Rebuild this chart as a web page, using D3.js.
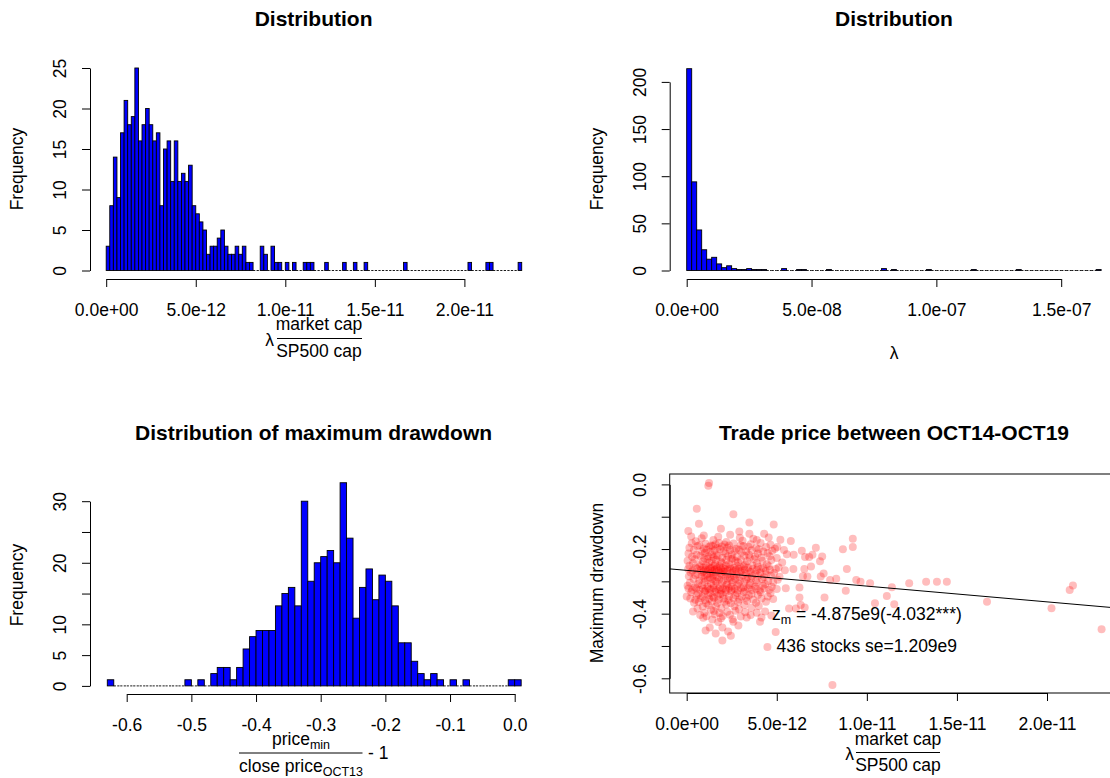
<!DOCTYPE html>
<html>
<head>
<meta charset="utf-8">
<script src="https://cdn.jsdelivr.net/npm/d3@7"></script>
<style>
  body { margin: 0; background: #fff; }
  svg { display: block; font-family: "Liberation Sans", Arial, Helvetica, sans-serif; }
</style>
</head>
<body>
<svg id="chart" width="1110" height="778"></svg>
<script>
// ---------- data ----------
// λ·(market cap / SP500 cap): histogram bins of width 2e-13 starting at 0
const capBinWidth = 2e-13;
const capCounts = [
  3, 8, 14, 9, 17, 21, 18, 19, 25, 16, 18, 20, 18, 16, 17, 8, 15, 16, 11, 16,
  11, 12, 11, 13, 8, 7, 6, 5, 2, 3, 3, 4, 5, 3, 2, 2, 3, 2, 3, 1,
  1, 0, 0, 3, 2, 0, 3, 1, 1, 0, 1, 0, 1, 0, 0, 1, 1, 1, 0, 0,
  0, 1, 0, 0, 0, 0, 1, 0, 0, 1, 0, 0, 1, 0, 0, 0, 0, 0, 0, 0,
  0, 0, 0, 1, 0, 0, 0, 0, 0, 0, 0, 0, 0, 0, 0, 0, 0, 0, 0, 0,
  0, 1, 0, 0, 0, 0, 1, 1, 0, 0, 0, 0, 0, 0, 0, 1
];
// λ: histogram bins of width 2e-9 starting at 0
const lambdaBinWidth = 2e-9;
const lambdaCounts = [
  214, 94, 43, 22, 12, 14, 7, 3, 5, 2, 1, 1, 2, 1, 1, 1, 0, 0, 0, 2,
  0, 0, 1, 1, 0, 0, 0, 0, 1, 0, 0, 0, 0, 0, 0, 0, 0, 0, 0, 2,
  0, 1, 0, 0, 0, 0, 0, 0, 1, 0, 0, 0, 0, 0, 0, 0, 0, 1, 0, 0,
  0, 0, 0, 0, 0, 0, 1, 0, 0, 0, 0, 0, 0, 0, 0, 0, 0, 0, 0, 0,
  0, 0, 1
];
// maximum drawdown (price_min / close price_OCT13 - 1): bins of width 0.01 from -0.63
const ddStart = -0.63;
const ddBinWidth = 0.01;
const ddCounts = [
  1, 0, 0, 0, 0, 0, 0, 0, 0, 0, 0, 0, 1, 0, 1, 0, 2, 3, 3, 1,
  3, 6, 8, 9, 9, 9, 13, 15, 16, 13, 30, 17, 20, 21, 22, 20, 33, 24, 11, 16,
  19, 14, 18, 17, 13, 7, 7, 4, 2, 1, 2, 1, 0, 1, 0, 1, 0, 0, 0, 0,
  0, 0, 1, 1
];

// tick values and labels
const capTicks = [0, 5e-12, 1e-11, 1.5e-11, 2e-11];
const lambdaTicks = [0, 5e-8, 1e-7, 1.5e-7];
const ddTicks = [-0.6, -0.5, -0.4, -0.3, -0.2, -0.1, 0];
const freqTicksCap = [0, 5, 10, 15, 20, 25];
const freqTicksLambda = [0, 50, 100, 150, 200];
const freqTicksDD = [0, 5, 10, 15, 20, 25, 30];
const freqLabelsDD = [0, 5, 10, 20, 30];
const drawdownTicks = [0, -0.1, -0.2, -0.3, -0.4, -0.5, -0.6];
const drawdownLabels = [0, -0.2, -0.4, -0.6];

// per-stock pairs: [λ·cap ratio in units of 1e-12, maximum drawdown]
const stocks = [
  [1.24,0.004],[1.20,-0.004],[0.56,-0.075],[2.59,-0.092],[0.68,-0.122],[3.48,-0.118],[4.83,-0.124],
  [0.09,-0.144],[1.90,-0.137],[2.92,-0.146],[3.48,-0.153],[5.78,-0.175],[7.17,-0.196],[9.22,-0.168],
  [9.22,-0.194],[8.67,-0.201],[6.39,-0.205],[5.03,-0.194],[5.94,-0.218],[6.57,-0.225],[6.98,-0.218],
  [7.52,-0.223],[5.92,-0.262],[6.53,-0.262],[6.70,-0.285],[7.44,-0.285],[7.96,-0.296],[8.89,-0.262],
  [9.41,-0.296],[9.65,-0.301],[10.18,-0.306],[8.83,-0.329],[7.65,-0.350],[6.26,-0.319],[6.26,-0.350],
  [6.33,-0.373],[6.55,-0.381],[6.06,-0.384],[5.68,-0.384],[10.45,-0.368],[4.94,-0.457],[4.48,-0.503],
  [8.09,-0.621],[1.98,-0.483],[1.61,-0.461],[1.28,-0.443],[1.98,-0.443],[2.87,-0.437],[2.59,-0.425],
  [0.89,-0.378],[0.41,-0.366],[0.00,-0.347],[3.89,-0.397],[3.33,-0.412],[4.07,-0.425],
  [11.11,-0.345],[11.39,-0.318],[11.52,-0.371],[12.35,-0.306],[13.29,-0.301],[13.89,-0.301],
  [14.44,-0.301],[16.67,-0.363],[20.25,-0.383],[21.26,-0.327],[21.44,-0.313],[23.03,-0.448],
  [0.95,-0.158],[2.41,-0.156],[4.30,-0.153],
  [0.83,-0.167],[1.75,-0.162],[2.95,-0.165],[3.70,-0.168],[0.25,-0.161],[4.55,-0.164],
  [1.48,-0.172],[3.89,-0.172],[0.50,-0.176],[2.20,-0.178],[3.10,-0.174],[5.20,-0.171],
  [0.28,-0.182],[0.70,-0.188],[1.05,-0.184],[1.35,-0.189],[1.80,-0.181],[2.10,-0.186],[2.60,-0.183],
  [3.00,-0.188],[3.55,-0.185],[4.10,-0.181],[4.65,-0.187],[1.60,-0.185],[2.35,-0.189],
  [3.42,-0.193],[0.15,-0.196],[0.60,-0.191],[0.95,-0.198],[1.25,-0.193],[1.70,-0.197],[1.95,-0.192],
  [2.25,-0.195],[2.75,-0.199],[3.15,-0.191],[3.85,-0.197],[4.40,-0.194],[4.90,-0.199],[1.45,-0.191],
  [0.40,-0.203],[0.85,-0.207],[1.10,-0.202],[1.30,-0.209],[1.55,-0.204],[1.85,-0.201],[2.05,-0.208],
  [2.40,-0.203],[2.65,-0.206],[2.90,-0.202],[3.30,-0.207],[3.60,-0.204],[4.00,-0.201],[4.25,-0.208],
  [4.75,-0.205],[5.40,-0.203],
  [0.10,-0.214],[0.55,-0.218],[1.00,-0.212],[1.40,-0.216],[1.65,-0.219],[2.15,-0.213],[2.50,-0.217],
  [3.05,-0.211],[3.45,-0.218],[3.95,-0.214],[4.50,-0.212],[5.56,-0.216],
  [0.30,-0.224],[0.75,-0.221],[0.98,-0.228],[1.20,-0.223],[1.50,-0.226],[1.72,-0.221],[1.98,-0.227],
  [2.30,-0.222],[2.55,-0.229],[2.80,-0.224],[3.20,-0.221],[3.50,-0.227],[3.80,-0.223],[4.15,-0.226],
  [4.60,-0.222],[5.00,-0.228],[6.80,-0.225],
  [0.05,-0.236],[0.45,-0.232],[0.90,-0.238],[1.15,-0.231],[1.38,-0.237],[1.62,-0.233],[1.90,-0.239],
  [2.20,-0.234],[2.48,-0.231],[2.70,-0.237],[3.00,-0.233],[3.35,-0.238],[3.75,-0.232],[4.20,-0.236],
  [4.70,-0.234],[7.40,-0.238],
  [0.35,-0.244],[0.80,-0.247],[1.25,-0.242],[1.58,-0.248],[1.95,-0.243],[2.35,-0.246],[2.85,-0.241],
  [3.25,-0.248],[3.90,-0.244],[4.45,-0.247],[5.30,-0.242],
  [0.15,-0.252],[0.50,-0.257],[0.72,-0.253],[0.92,-0.258],[1.08,-0.251],[1.22,-0.256],[1.36,-0.259],
  [1.52,-0.252],[1.68,-0.257],[1.82,-0.253],[2.00,-0.258],[2.18,-0.251],[2.38,-0.255],[2.60,-0.259],
  [2.78,-0.252],[2.98,-0.256],[3.18,-0.253],[3.40,-0.258],[3.65,-0.251],[3.95,-0.255],[4.25,-0.259],
  [4.55,-0.253],[5.10,-0.257],[6.90,-0.254],
  [0.08,-0.262],[0.32,-0.267],[0.58,-0.261],[0.78,-0.265],[0.95,-0.269],[1.05,-0.263],[1.18,-0.266],
  [1.30,-0.261],[1.42,-0.268],[1.55,-0.264],[1.66,-0.261],[1.78,-0.267],[1.90,-0.263],[2.02,-0.269],
  [2.12,-0.262],[2.26,-0.266],[2.42,-0.261],[2.58,-0.268],[2.72,-0.264],[2.88,-0.261],[3.02,-0.267],
  [3.22,-0.263],[3.45,-0.269],[3.68,-0.262],[3.88,-0.266],[4.12,-0.261],[4.38,-0.268],[4.62,-0.264],
  [4.95,-0.262],[5.45,-0.266],
  [0.22,-0.273],[0.60,-0.277],[0.88,-0.272],[1.12,-0.278],[1.32,-0.274],[1.48,-0.279],[1.62,-0.272],
  [1.88,-0.276],[2.08,-0.271],[2.30,-0.277],[2.52,-0.273],[2.75,-0.278],[3.00,-0.272],[3.28,-0.276],
  [3.55,-0.271],[3.82,-0.277],[4.08,-0.273],[4.42,-0.278],[4.85,-0.274],[7.60,-0.276],
  [0.12,-0.284],[0.48,-0.281],[0.82,-0.286],[1.02,-0.282],[1.28,-0.288],[1.45,-0.283],[1.70,-0.287],
  [1.92,-0.281],[2.15,-0.285],[2.40,-0.289],[2.62,-0.283],[2.92,-0.286],[3.12,-0.281],[3.38,-0.288],
  [3.62,-0.284],[3.98,-0.282],[4.28,-0.287],[4.68,-0.283],[5.15,-0.286],[6.45,-0.284],
  [0.38,-0.293],[0.70,-0.298],[0.98,-0.291],[1.18,-0.296],[1.40,-0.292],[1.60,-0.299],[1.80,-0.294],
  [2.05,-0.297],[2.28,-0.291],[2.50,-0.296],[2.70,-0.292],[2.95,-0.298],[3.30,-0.294],[3.58,-0.291],
  [3.85,-0.297],[4.18,-0.293],[4.52,-0.299],[5.05,-0.295],[8.30,-0.292],
  [0.18,-0.304],[0.62,-0.308],[1.00,-0.302],[1.35,-0.307],[1.65,-0.301],[1.95,-0.306],[2.25,-0.309],
  [2.55,-0.303],[2.88,-0.307],[3.20,-0.302],[3.52,-0.306],[3.92,-0.304],[4.35,-0.308],[4.80,-0.303],
  [0.05,-0.314],[0.45,-0.318],[0.85,-0.312],[1.15,-0.317],[1.50,-0.313],[1.85,-0.318],[2.20,-0.311],
  [2.48,-0.316],[2.80,-0.313],[3.15,-0.318],[3.48,-0.312],[3.80,-0.316],[4.22,-0.314],[4.72,-0.317],
  [0.10,-0.322],[0.30,-0.327],[0.52,-0.321],[0.72,-0.326],[0.90,-0.323],[1.05,-0.328],[1.20,-0.322],
  [1.32,-0.325],[1.48,-0.321],[1.62,-0.327],[1.76,-0.323],[1.90,-0.328],[2.02,-0.322],[2.18,-0.326],
  [2.34,-0.321],[2.50,-0.327],[2.66,-0.323],[2.84,-0.328],[3.02,-0.322],[3.22,-0.326],[3.42,-0.321],
  [3.62,-0.327],[3.85,-0.323],[4.05,-0.328],[4.30,-0.322],[4.58,-0.326],[5.00,-0.324],[5.50,-0.321],
  [0.25,-0.334],[0.65,-0.338],[1.00,-0.332],[1.30,-0.337],[1.58,-0.333],[1.88,-0.339],[2.15,-0.334],
  [2.45,-0.331],[2.80,-0.336],[3.18,-0.333],[3.60,-0.338],[4.10,-0.334],[4.65,-0.337],
  [0.55,-0.343],[0.88,-0.347],[1.18,-0.342],[1.45,-0.348],[1.72,-0.344],[2.00,-0.341],[2.35,-0.346],
  [2.70,-0.343],[3.05,-0.348],[3.45,-0.344],[3.95,-0.342],[4.50,-0.347],
  [0.20,-0.353],[0.48,-0.357],[0.78,-0.352],[1.02,-0.358],[1.25,-0.354],[1.52,-0.351],[1.78,-0.356],
  [2.05,-0.353],[2.32,-0.358],[2.60,-0.352],[2.92,-0.356],[3.30,-0.351],[3.70,-0.357],[4.15,-0.353],
  [4.80,-0.355],
  [0.68,-0.364],[1.08,-0.368],[1.40,-0.362],[1.70,-0.367],[2.10,-0.363],[2.45,-0.368],[2.85,-0.364],
  [3.35,-0.361],[3.85,-0.366],[4.40,-0.363],
  [1.20,-0.374],[1.62,-0.378],[2.20,-0.372],[2.65,-0.377],[3.20,-0.373],[4.00,-0.376],
  [0.60,-0.384],[1.35,-0.388],[1.92,-0.383],[2.90,-0.386],[3.60,-0.382],
  [0.35,-0.393],[0.98,-0.397],[1.50,-0.392],[1.82,-0.398],[2.25,-0.394],[2.70,-0.391],[3.25,-0.396],
  [4.35,-0.393],
  [0.75,-0.404],[1.10,-0.408],[1.55,-0.402],[2.00,-0.407],[2.40,-0.403],[3.00,-0.409],[3.55,-0.404],
  [4.70,-0.406],
  [0.92,-0.413],[1.42,-0.418],[1.90,-0.414],[2.55,-0.417],[4.15,-0.412],
  [1.75,-0.426],[2.30,-0.455],[1.05,-0.452],[2.45,-0.468]
];
// least-squares fit of drawdown on the cap ratio
const fitIntercept = -0.266;
const fitSlope = -4.875e9;

// ---------- helpers ----------
const FONT = 17.5;
const svg = d3.select("#chart");

// R-style scientific labels: 5.0e-12, 0.0e+00
function rSci(v) {
  const [m, e] = v.toExponential(1).split("e");
  return m + "e" + e[0] + e.slice(1).padStart(2, "0");
}
const rFixed = v => (Math.abs(v) < 1e-12 ? 0 : v).toFixed(1);

function bottomAxis(scale, ticks, fmt, y) {
  const g = svg.append("g")
    .attr("transform", `translate(0,${y})`)
    .call(d3.axisBottom(scale).tickValues(ticks).tickFormat(fmt)
      .tickSizeOuter(0).tickSizeInner(8).tickPadding(17));
  g.attr("font-size", FONT).attr("font-family", null);
  g.selectAll("line, path").attr("stroke", "#000");
  g.selectAll("text").attr("fill", "#000");
  return g;
}

function leftAxis(scale, ticks, labels, fmt, x) {
  const g = svg.append("g")
    .attr("transform", `translate(${x},0)`)
    .call(d3.axisLeft(scale).tickValues(ticks)
      .tickFormat(v => labels.some(l => Math.abs(l - v) < 1e-9) ? fmt(v) : "")
      .tickSizeOuter(0).tickSizeInner(8));
  g.attr("font-size", FONT).attr("font-family", null);
  g.selectAll("line, path").attr("stroke", "#000");
  g.selectAll("text")
    .attr("fill", "#000")
    .attr("transform", "rotate(-90)")
    .attr("x", 0).attr("y", -24).attr("dy", null)
    .attr("text-anchor", "middle");
  return g;
}

function title(text, cx, y) {
  svg.append("text").attr("x", cx).attr("y", y)
    .attr("text-anchor", "middle").attr("font-weight", "bold")
    .attr("font-size", 21).text(text);
}

function yLabel(text, x, cy) {
  svg.append("text")
    .attr("transform", `translate(${x},${cy}) rotate(-90)`)
    .attr("text-anchor", "middle").attr("font-size", FONT).text(text);
}

function histogram(counts, start, width, x, y) {
  const bins = counts.map((c, i) => ({ x0: start + i * width, x1: start + (i + 1) * width, c }));
  const g = svg.append("g");
  g.selectAll("rect").data(bins.filter(b => b.c > 0)).join("rect")
    .attr("x", b => x(b.x0)).attr("width", b => x(b.x1) - x(b.x0))
    .attr("y", b => y(b.c)).attr("height", b => y(0) - y(b.c))
    .attr("fill", "#0000ff").attr("stroke", "#000").attr("stroke-width", 0.9);
  // empty bins collapse to their bottom edge
  g.selectAll("line.empty").data(bins.filter(b => b.c === 0)).join("line")
    .attr("class", "empty")
    .attr("x1", b => x(b.x0)).attr("x2", b => x(b.x1))
    .attr("y1", y(0)).attr("y2", y(0))
    .attr("stroke", "#000").attr("stroke-width", 0.9).attr("stroke-dasharray", "2.2,1.3");
}

// "λ · (num / den)" style axis caption
function fracLabel(opt) {
  const g = svg.append("g").attr("font-size", FONT);
  if (opt.lead) g.append("text").attr("x", opt.leadX).attr("y", opt.barY + 7)
    .attr("text-anchor", "middle").text(opt.lead);
  const num = g.append("text").attr("x", opt.cx).attr("y", opt.numY).attr("text-anchor", "middle");
  num.append("tspan").text(opt.num);
  if (opt.numSub) num.append("tspan").attr("font-size", 12.5).attr("dy", 4).text(opt.numSub);
  const den = g.append("text").attr("x", opt.cx).attr("y", opt.denY).attr("text-anchor", "middle");
  den.append("tspan").text(opt.den);
  if (opt.denSub) den.append("tspan").attr("font-size", 12.5).attr("dy", 4).text(opt.denSub);
  g.append("line").attr("x1", opt.barX0).attr("x2", opt.barX1)
    .attr("y1", opt.barY).attr("y2", opt.barY).attr("stroke", "#000").attr("stroke-width", 1);
  if (opt.tail) g.append("text").attr("x", opt.tailX).attr("y", opt.barY + 6).text(opt.tail);
}

// ---------- top left: distribution of λ·cap ratio ----------
const xCap = d3.scaleLinear().domain([0, 2e-11]).range([106.2, 464.4]);
const yCap = d3.scaleLinear().domain([0, 25]).range([270.5, 68]);
histogram(capCounts, 0, capBinWidth, xCap, yCap);
bottomAxis(xCap, capTicks, rSci, 279);
leftAxis(yCap, freqTicksCap, freqTicksCap, String, 90);
title("Distribution", 313.6, 26);
yLabel("Frequency", 23, 169);
fracLabel({ lead: "λ", leadX: 269.5, cx: 319, num: "market cap", numY: 330,
  den: "SP500 cap", denY: 356.5, barY: 338.5, barX0: 277, barX1: 362 });

// ---------- top right: distribution of λ ----------
const xLam = d3.scaleLinear().domain([0, 1.5e-7]).range([686.7, 1061.2]);
const yLam = d3.scaleLinear().domain([0, 200]).range([270.5, 81.9]);
histogram(lambdaCounts, 0, lambdaBinWidth, xLam, yLam);
bottomAxis(xLam, lambdaTicks, rSci, 279);
leftAxis(yLam, freqTicksLambda, freqTicksLambda, String, 669.7);
title("Distribution", 894, 26);
yLabel("Frequency", 603, 169);
svg.append("text").attr("x", 894).attr("y", 359).attr("text-anchor", "middle")
  .attr("font-size", FONT).text("λ");

// ---------- bottom left: distribution of maximum drawdown ----------
const xDD = d3.scaleLinear().domain([-0.6, 0]).range([126.7, 514.7]);
const yDD = d3.scaleLinear().domain([0, 30]).range([685.9, 501.2]);
histogram(ddCounts, ddStart, ddBinWidth, xDD, yDD);
bottomAxis(xDD, ddTicks, rFixed, 694);
leftAxis(yDD, freqTicksDD, freqLabelsDD, String, 90);
title("Distribution of maximum drawdown", 313.6, 439.5);
yLabel("Frequency", 23, 585);
fracLabel({ cx: 301, num: "price", numSub: "min", numY: 744.5,
  den: "close price", denSub: "OCT13", denY: 772, barY: 753, barX0: 239, barX1: 362.5,
  tail: "- 1", tailX: 368 });

// ---------- bottom right: drawdown against λ·cap ratio ----------
const xSc = d3.scaleLinear().domain([0, 2e-11]).range([686.7, 1047]);
const ySc = d3.scaleLinear().domain([-0.6, 0]).range([678.3, 484.4]);
const box = { x0: 669.7, x1: 1118, y0: 474, y1: 693 };
svg.append("clipPath").attr("id", "scClip").append("rect")
  .attr("x", box.x0).attr("y", box.y0).attr("width", box.x1 - box.x0).attr("height", box.y1 - box.y0);
const sc = svg.append("g").attr("clip-path", "url(#scClip)");
sc.selectAll("circle").data(stocks).join("circle")
  .attr("cx", d => xSc(d[0] * 1e-12)).attr("cy", d => ySc(d[1]))
  .attr("r", 4).attr("fill", "rgba(255,0,0,0.26)");
const xl = xSc.invert(box.x0), xr = xSc.invert(box.x1);
sc.append("line")
  .attr("x1", xSc(xl)).attr("y1", ySc(fitIntercept + fitSlope * xl))
  .attr("x2", xSc(xr)).attr("y2", ySc(fitIntercept + fitSlope * xr))
  .attr("stroke", "#000").attr("stroke-width", 1);
svg.append("rect").attr("x", box.x0).attr("y", box.y0)
  .attr("width", box.x1 - box.x0).attr("height", box.y1 - box.y0)
  .attr("fill", "none").attr("stroke", "#000").attr("stroke-width", 1);
bottomAxis(xSc, capTicks, rSci, box.y1);
leftAxis(ySc, drawdownTicks, drawdownLabels, rFixed, box.x0);
title("Trade price between OCT14-OCT19", 894, 439.5);
yLabel("Maximum drawdown", 603, 583);
fracLabel({ lead: "λ", leadX: 849.5, cx: 898, num: "market cap", numY: 744.5,
  den: "SP500 cap", denY: 770.5, barY: 752.5, barX0: 856, barX1: 940 });

// annotation of the fit, centred at (1e-11, -0.4) and (1e-11, -0.5)
const zt = svg.append("text").attr("x", xSc(1e-11)).attr("y", ySc(-0.4) + 6)
  .attr("text-anchor", "middle").attr("font-size", FONT);
zt.append("tspan").text("z");
zt.append("tspan").attr("font-size", 12.5).attr("dy", 4).text("m");
zt.append("tspan").attr("dy", -4).text(" = -4.875e9(-4.032***)");
svg.append("text").attr("x", xSc(1e-11)).attr("y", ySc(-0.5) + 6)
  .attr("text-anchor", "middle").attr("font-size", FONT).text("436 stocks se=1.209e9");
</script>
</body>
</html>
